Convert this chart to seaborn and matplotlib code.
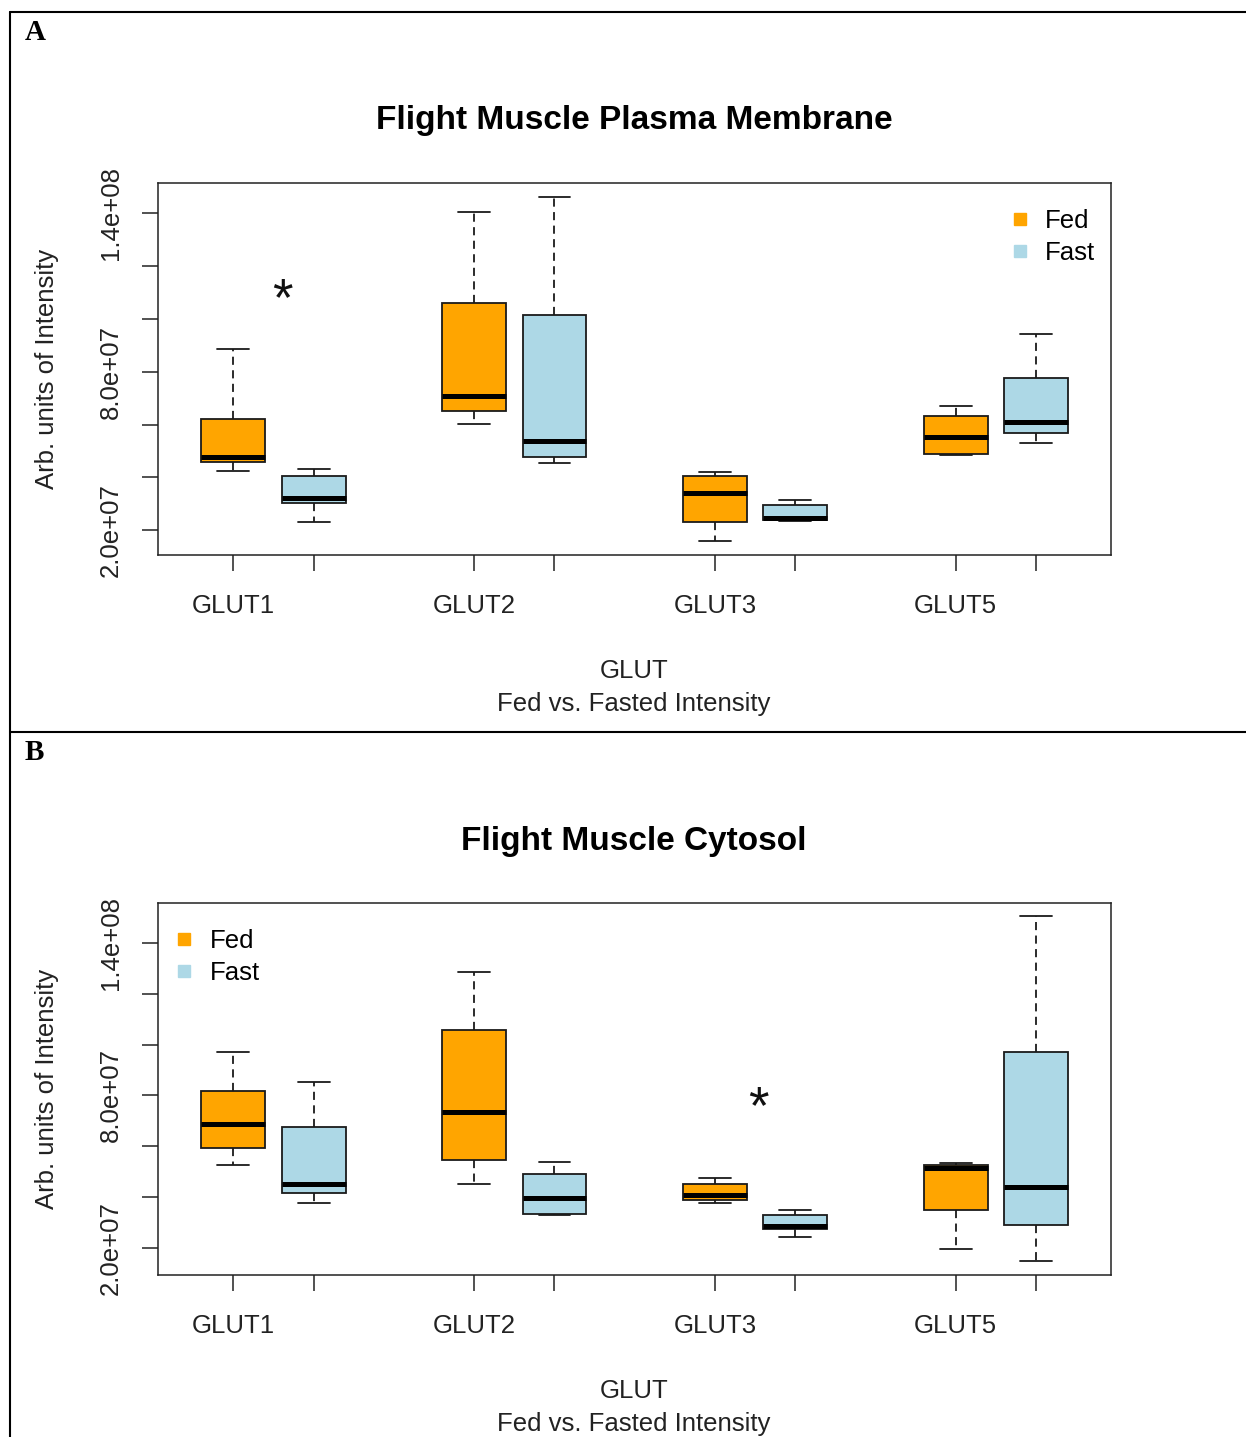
import numpy as np
import pandas as pd
import matplotlib
matplotlib.use("Agg")
import matplotlib.pyplot as plt
from matplotlib.lines import Line2D
import seaborn as sns

# five-number summaries: min, q1, median, q3, max
glut = ["GLUT1", "GLUT2", "GLUT3", "GLUT5"]
cond = ["Fed", "Fast"]

pm_fed = [
    [4.25e7, 4.58e7, 4.79e7, 6.22e7, 8.86e7],
    [6.02e7, 6.53e7, 7.09e7, 10.60e7, 14.05e7],
    [1.59e7, 2.31e7, 3.41e7, 4.06e7, 4.21e7],
    [4.85e7, 4.89e7, 5.53e7, 6.33e7, 6.71e7],
]
pm_fast = [
    [2.30e7, 3.02e7, 3.21e7, 4.07e7, 4.31e7],
    [4.55e7, 4.78e7, 5.38e7, 10.16e7, 14.64e7],
    [2.35e7, 2.39e7, 2.47e7, 2.96e7, 3.15e7],
    [5.31e7, 5.69e7, 6.10e7, 7.77e7, 9.44e7],
]
cy_fed = [
    [5.26e7, 5.94e7, 6.88e7, 8.16e7, 9.71e7],
    [4.49e7, 5.45e7, 7.33e7, 10.58e7, 12.88e7],
    [3.76e7, 3.89e7, 4.09e7, 4.50e7, 4.76e7],
    [1.93e7, 3.47e7, 5.13e7, 5.25e7, 5.33e7],
]
cy_fast = [
    [3.76e7, 4.16e7, 4.50e7, 6.74e7, 8.55e7],
    [3.28e7, 3.34e7, 3.96e7, 4.92e7, 5.38e7],
    [2.41e7, 2.73e7, 2.85e7, 3.27e7, 3.48e7],
    [1.46e7, 2.88e7, 4.38e7, 9.71e7, 15.08e7],
]

ytick_vals = [2e7, 4e7, 6e7, 8e7, 10e7, 12e7, 14e7]
ytick_labels = ["2.0e+07", "", "", "8.0e+07", "", "", "1.4e+08"]

colors = {"Fed": "#FFA500", "Fast": "#ADD8E6"}

W, H = 1246, 1437
BW = 0.668  # dodge width
FS = 18.5


def long_table(fed, fast):
    rows = []
    for i, g in enumerate(glut):
        for v in fed[i]:
            rows.append((g, "Fed", v))
        for v in fast[i]:
            rows.append((g, "Fast", v))
    return pd.DataFrame(rows, columns=["GLUT", "Condition", "Intensity"])


sns.set_style("white")
plt.rcParams["font.family"] = ["Liberation Sans", "DejaVu Sans"]
plt.rcParams["text.color"] = "black"

fig = plt.figure(figsize=(W / 100, H / 100), dpi=100)


def panel(top_px, fed, fast, title, ylim, leg_xy, star):
    ax = fig.add_axes([158.3 / W, 1 - (top_px + 372) / H, 952.7 / W, 372 / H])
    df = long_table(fed, fast)
    sns.boxplot(data=df, x="GLUT", y="Intensity", hue="Condition",
                hue_order=cond, palette=colors, whis=(0, 100), width=BW,
                gap=0.207, linecolor="#1a1a1a", linewidth=1.3, legend=False,
                saturation=1, ax=ax,
                whiskerprops={"linestyle": (0, (4.5, 3))},
                medianprops={"color": "black", "linewidth": 3.6})
    ax.set_xlim(-0.478, 3.478)
    ax.set_ylim(*ylim)
    pos = []
    labs = []
    for i, g in enumerate(glut):
        pos += [i - BW / 4, i + BW / 4]
        labs += [g, ""]
    ax.set_xticks(pos, labs)
    ax.set_yticks(ytick_vals, ytick_labels)
    ax.tick_params(axis="both", direction="out", length=11.5, width=1.1,
                   color="#222222", labelsize=FS, labelcolor="#222222",
                   bottom=True, left=True)
    ax.tick_params(axis="x", pad=16.5)
    ax.tick_params(axis="y", pad=14, labelrotation=90)
    for t in ax.get_yticklabels():
        t.set_va("center")
    for s in ax.spines.values():
        s.set_color("#222222")
        s.set_linewidth(1.1)
    ax.set_xlabel("")
    ax.set_ylabel("")

    handles = [Line2D([], [], marker="s", linestyle="none", markersize=8,
                      markerfacecolor=colors[c], markeredgecolor=colors[c])
               for c in cond]
    ax.legend(handles, cond, loc="upper left", bbox_to_anchor=leg_xy,
              frameon=False, fontsize=FS, borderpad=0, handlelength=0.6,
              handletextpad=0.7, labelspacing=0.3, borderaxespad=0)

    ax.text(star[0], star[1], "*", fontsize=38, ha="center", va="baseline",
            color="#111111")

    fig.text(634 / W, 1 - (top_px - 62) / H, title, fontsize=24,
             fontweight="bold", ha="center", va="center")
    fig.text(47 / W, 1 - (top_px + 186) / H, "Arb. units of Intensity",
             fontsize=FS, rotation=90, ha="center", va="center", color="#222222")
    fig.text(634 / W, 1 - (top_px + 488) / H, "GLUT", fontsize=FS,
             ha="center", va="center", color="#222222")
    fig.text(634 / W, 1 - (top_px + 521) / H, "Fed vs. Fasted Intensity",
             fontsize=FS, ha="center", va="center", color="#222222")
    return ax


panel(183, pm_fed, pm_fast, "Flight Muscle Plasma Membrane",
      (1.064e7, 15.155e7), (0.896, 0.93), (0.036, 10.15e7))
panel(903.3, cy_fed, cy_fast, "Flight Muscle Cytosol",
      (0.906e7, 15.58e7), (0.019, 0.93), (2.014, 6.9e7))

# panel borders
for x0, y0, x1, y1 in [(10, 12, W, 12), (10, 12, 10, H), (10, 732, W, 732)]:
    fig.add_artist(Line2D([x0 / W, x1 / W], [1 - y0 / H, 1 - y1 / H],
                          transform=fig.transFigure, color="black", linewidth=1.5))
fig.text(25 / W, 1 - 33 / H, "A", family=["Liberation Serif", "DejaVu Serif"],
         fontsize=21, fontweight="bold", va="center", ha="left")
fig.text(25 / W, 1 - 752 / H, "B", family=["Liberation Serif", "DejaVu Serif"],
         fontsize=21, fontweight="bold", va="center", ha="left")

fig.savefig("out.png", dpi=100, facecolor="white")
